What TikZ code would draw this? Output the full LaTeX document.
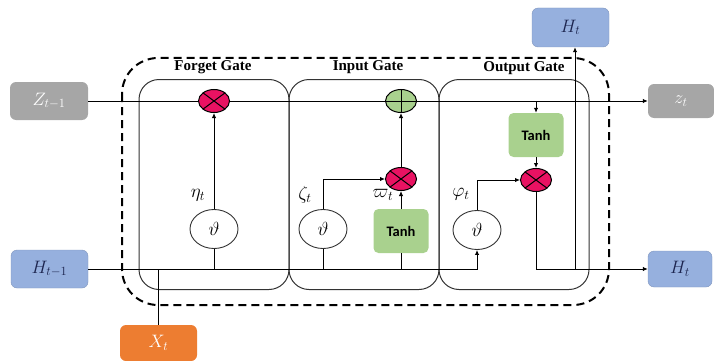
\RequirePackage{fix-cm}
\documentclass[tikz,border=0pt]{standalone}
\usepackage{fontspec}
\setmainfont{Liberation Serif}
\newfontfamily\tanhfont{Carlito}
\usetikzlibrary{shapes.geometric,arrows.meta}
\definecolor{cellgray}{RGB}{166,166,166}
\definecolor{hblue}{RGB}{150,176,222}
\definecolor{hnavy}{RGB}{28,36,78}
\definecolor{xorange}{RGB}{237,125,49}
\definecolor{tgreen}{RGB}{169,209,142}
\definecolor{mulred}{RGB}{233,18,98}
\tikzset{wire/.style={line width=1pt}}
\tikzset{flow/.style={wire, -{Latex[length=5pt,width=4.5pt]}}}
\tikzset{gate/.style={draw=black!80, line width=1pt, rounded corners=20pt, minimum width=150pt, minimum height=210pt}}
\tikzset{gatename/.style={font=\fontsize{15}{17}\selectfont\bfseries}}
\tikzset{dashbox/.style={line width=2pt, dash pattern=on 8pt off 5pt, rounded corners=36pt}}
\tikzset{op/.style={ellipse, draw, line width=1pt, minimum width=31pt, minimum height=23pt, inner sep=0pt}}
\tikzset{mul/.style={op, fill=mulred, path picture={\draw[line width=1pt] (path picture bounding box.north west) -- (path picture bounding box.south east) (path picture bounding box.south west) -- (path picture bounding box.north east);}}}
\tikzset{add/.style={op, fill=tgreen, path picture={\draw[line width=1pt] (path picture bounding box.north) -- (path picture bounding box.south) (path picture bounding box.west) -- (path picture bounding box.east);}}}
\tikzset{sig/.style={ellipse, draw=black!80, line width=0.9pt, minimum width=48pt, minimum height=39pt, inner sep=0pt, font=\fontsize{19}{21}\selectfont}}
\tikzset{tanhbox/.style={fill=tgreen, rounded corners=5pt, minimum width=55pt, minimum height=44pt, font=\tanhfont\bfseries\fontsize{14.5}{16}\selectfont}}
\tikzset{io/.style={rounded corners=6pt, minimum height=38pt, font=\fontsize{18}{21}\selectfont}}
\tikzset{hbox/.style={io, fill=hblue, draw=hblue!85!black, text=hnavy}}
\tikzset{zbox/.style={io, fill=cellgray, text=white}}
\tikzset{xbox/.style={io, fill=xorange, text=white}}
\tikzset{val/.style={font=\fontsize{19}{21}\selectfont}}

\begin{document}
\begin{tikzpicture}[x=1pt,y=-1pt]
\useasboundingbox (0,0) rectangle (714,361);
\draw[dashbox] (122,58) rectangle (609,305);
\node[gate] (fg) at (214,184.5) {};
\node[gate] (ig) at (364,184.5) {};
\node[gate] (og) at (514,184.5) {};
\node[gatename] (fgname) at (213,67) {Forget Gate};
\node[gatename] (igname) at (368,67) {Input Gate};
\node[gatename] (ogname) at (524,68) {Output Gate};

\node[zbox, minimum width=78pt] (zprev) at (49,101) {$Z_{t-1}$};
\node[zbox, minimum width=66pt, minimum height=34pt] (znext) at (681,101) {$z_t$};
\node[hbox, minimum width=77pt] (hprev) at (49.5,269) {$H_{t-1}$};
\node[hbox, minimum width=64pt, minimum height=36pt] (hnext) at (680,269) {$H_t$};
\node[hbox, minimum width=77pt, minimum height=39pt] (htop) at (570.5,27.5) {$H_t$};
\node[xbox, minimum width=77pt, minimum height=36pt] (xt) at (158.5,343) {$X_t$};

\node[mul] (fmul) at (214,101) {};
\node[add] (iadd) at (401,101) {};
\node[mul] (imul) at (401,179) {};
\node[mul] (omul) at (536,180) {};
\node[sig] (fsig) at (214,229) {$\vartheta$};
\node[sig] (isig) at (323,229) {$\vartheta$};
\node[sig] (osig) at (477,230) {$\vartheta$};
\node[tanhbox] (itanh) at (401,231) {Tanh};
\node[tanhbox] (otanh) at (536,135) {Tanh};

\node[val] (eta) at (198,195) {$\eta_t$};
\node[val] (zeta) at (305,195) {$\zeta_t$};
\node[val] (varpi) at (383,195) {$\varpi_t$};
\node[val] (phi) at (461,194) {$\varphi_t$};

\draw[wire] (zprev) -- (fmul);
\draw[wire] (fmul) -- (iadd);
\draw[flow] (iadd) -- (iadd -| znext.west);
\draw[flow] (otanh.north |- iadd) -- (otanh);
\draw[flow] (fsig) -- (fmul);
\draw[flow] (isig.north) |- (imul);
\draw[flow] (itanh) -- (imul);
\draw[flow] (imul) -- (iadd);
\draw[flow] (otanh) -- (omul);
\draw[flow] (osig.north) |- (omul);
\draw[flow] (omul.south) |- (hnext);
\coordinate (hsplit) at (575,269);
\draw[flow] (hsplit) -- (hsplit |- htop.south);
\draw[flow] (hprev) -| (osig);
\draw[wire] (fsig.south) -- (fsig.south |- hprev.east);
\draw[wire] (isig.south) -- (isig.south |- hprev.east);
\draw[wire] (itanh.south) -- (itanh.south |- hprev.east);
\draw[wire] (xt) -- (xt |- hprev.east);
\end{tikzpicture}
\end{document}
